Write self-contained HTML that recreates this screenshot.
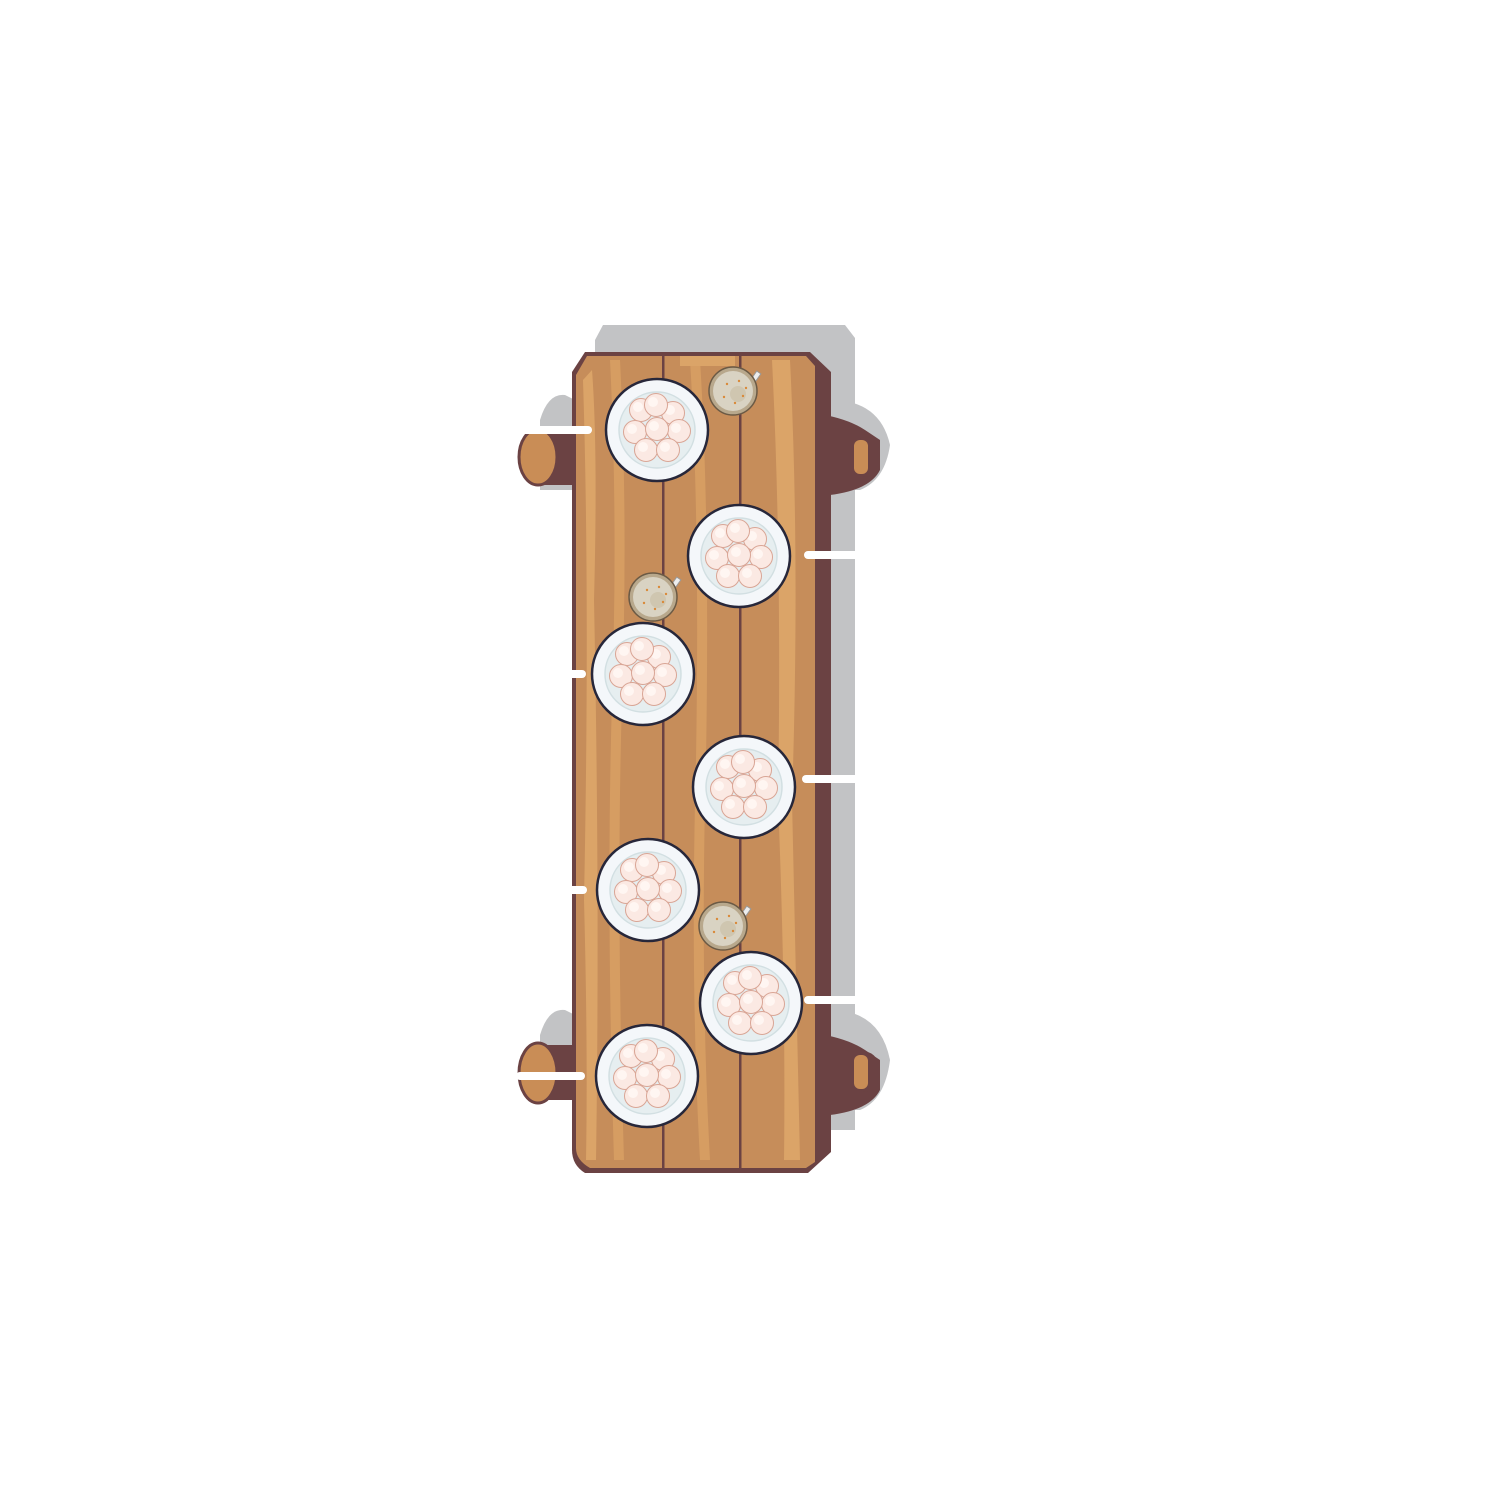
<!DOCTYPE html>
<html><head><style>html,body{margin:0;padding:0;background:#fff}svg{display:block}</style></head>
<body>
<svg width="1500" height="1500" viewBox="0 0 1500 1500" xmlns="http://www.w3.org/2000/svg">
<defs>
<g id="d"><circle r="11.5" fill="#fbe9e3" stroke="#d9a595" stroke-width="1"/><circle cx="-3" cy="-3" r="5" fill="#fff6f2"/></g>
<g id="plate">
<circle r="51" fill="#f4f7fa" stroke="#27273a" stroke-width="2.5"/>
<circle r="38" fill="#e6eef0" stroke="#d2dfe2" stroke-width="1.5"/>
<use href="#d" x="-16" y="-20"/><use href="#d" x="16" y="-17"/><use href="#d" x="-1" y="-25"/>
<use href="#d" x="-22" y="2"/><use href="#d" x="22" y="1"/><use href="#d" x="0" y="-1"/>
<use href="#d" x="-11" y="20"/><use href="#d" x="11" y="20"/>
</g>
<g id="cup">
<rect x="8" y="-30" width="5" height="12" fill="#eee" stroke="#999" transform="rotate(35)"/>
<circle r="24" fill="#b8a88c" stroke="#6b5a45" stroke-width="1.5"/>
<circle r="20" fill="#d9d3c3"/>
<circle cx="5" cy="3" r="8" fill="#cfc6b0"/>
<circle cx="-6" cy="-7" r="1.2" fill="#d98a3a"/><circle cx="6" cy="-10" r="1.2" fill="#d98a3a"/>
<circle cx="10" cy="5" r="1.2" fill="#d98a3a"/><circle cx="-9" cy="6" r="1.2" fill="#d98a3a"/>
<circle cx="2" cy="12" r="1.2" fill="#d98a3a"/><circle cx="13" cy="-3" r="1.2" fill="#d98a3a"/>
</g>
</defs>
<path d="M603 325 H845 L855 338 V1130 H595 V340 Z" fill="#c2c3c5"/>
<path d="M540 420 Q548 393 565 395 L575 400 V490 H540 Z" fill="#c2c3c5"/>
<path d="M540 1035 Q548 1008 565 1010 L575 1015 V1100 H540 Z" fill="#c2c3c5"/>
<path d="M830 400 Q880 400 890 445 Q885 480 860 490 L830 490 Z" fill="#c2c3c5"/>
<path d="M830 1010 Q880 1010 890 1060 Q885 1100 860 1110 L830 1110 Z" fill="#c2c3c5"/>
<path d="M530 430 H580 V485 H535 Z" fill="#6b4243"/>
<ellipse cx="538" cy="457" rx="19" ry="28" fill="#c98d56" stroke="#6b4243" stroke-width="3"/>
<path d="M530 1045 H580 V1100 H535 Z" fill="#6b4243"/>
<ellipse cx="538" cy="1073" rx="19" ry="30" fill="#c98d56" stroke="#6b4243" stroke-width="3"/>
<path d="M825 415 Q850 420 865 430 L880 440 V470 Q870 490 830 495 Z" fill="#6b4243"/>
<ellipse cx="866" cy="457" rx="14" ry="20" fill="#6b4243"/>
<rect x="854" y="440" width="14" height="34" rx="6" fill="#c98d56"/>
<path d="M825 1035 Q850 1040 865 1050 L880 1060 V1090 Q870 1110 830 1115 Z" fill="#6b4243"/>
<ellipse cx="866" cy="1072" rx="14" ry="20" fill="#6b4243"/>
<rect x="854" y="1055" width="14" height="34" rx="6" fill="#c98d56"/>
<path d="M585 352 H810 L831 372 V1152 L808 1173 H585 Q572 1165 572 1150 V372 Z" fill="#6b4243"/>
<path d="M587 356 H662 V1168 H590 Q576 1160 576 1148 V375 Z" fill="#c68d5a"/>
<path d="M664.5 356 H739 V1168 H664.5 Z" fill="#c68d5a"/>
<path d="M741.5 356 H806 L815 366 V1162 L806 1168 H741.5 Z" fill="#c68d5a"/>
<path d="M583 380 Q590 600 584 900 Q588 1050 586 1160 H596 Q600 900 594 600 Q598 450 592 370 Z" fill="#dba468"/>
<path d="M610 360 Q618 520 612 700 Q606 900 614 1160 H624 Q616 900 622 700 Q628 520 620 360 Z" fill="#d69d62"/>
<path d="M690 360 Q700 520 696 760 Q690 980 700 1160 H710 Q700 980 706 760 Q710 520 700 360 Z" fill="#d69d62"/>
<path d="M772 360 Q782 560 778 800 Q786 1000 784 1160 H800 Q796 980 792 800 Q800 560 790 360 Z" fill="#dba468"/>
<path d="M680 356 H735 V366 H680 Z" fill="#dba468"/>
<g stroke="#fff" stroke-width="8" stroke-linecap="round">
<line x1="520" y1="430" x2="588" y2="430"/>
<line x1="808" y1="555" x2="858" y2="555"/>
<line x1="572" y1="674" x2="582" y2="674"/>
<line x1="806" y1="779" x2="858" y2="779"/>
<line x1="572" y1="890" x2="583" y2="890"/>
<line x1="808" y1="1000" x2="858" y2="1000"/>
<line x1="520" y1="1076" x2="581" y2="1076"/>
</g>
<use href="#plate" x="657" y="430"/>
<use href="#plate" x="739" y="556"/>
<use href="#plate" x="643" y="674"/>
<use href="#plate" x="744" y="787"/>
<use href="#plate" x="648" y="890"/>
<use href="#plate" x="751" y="1003"/>
<use href="#plate" x="647" y="1076"/>
<use href="#cup" x="733" y="391"/>
<use href="#cup" x="653" y="597"/>
<use href="#cup" x="723" y="926"/>
</svg>
</body></html>
